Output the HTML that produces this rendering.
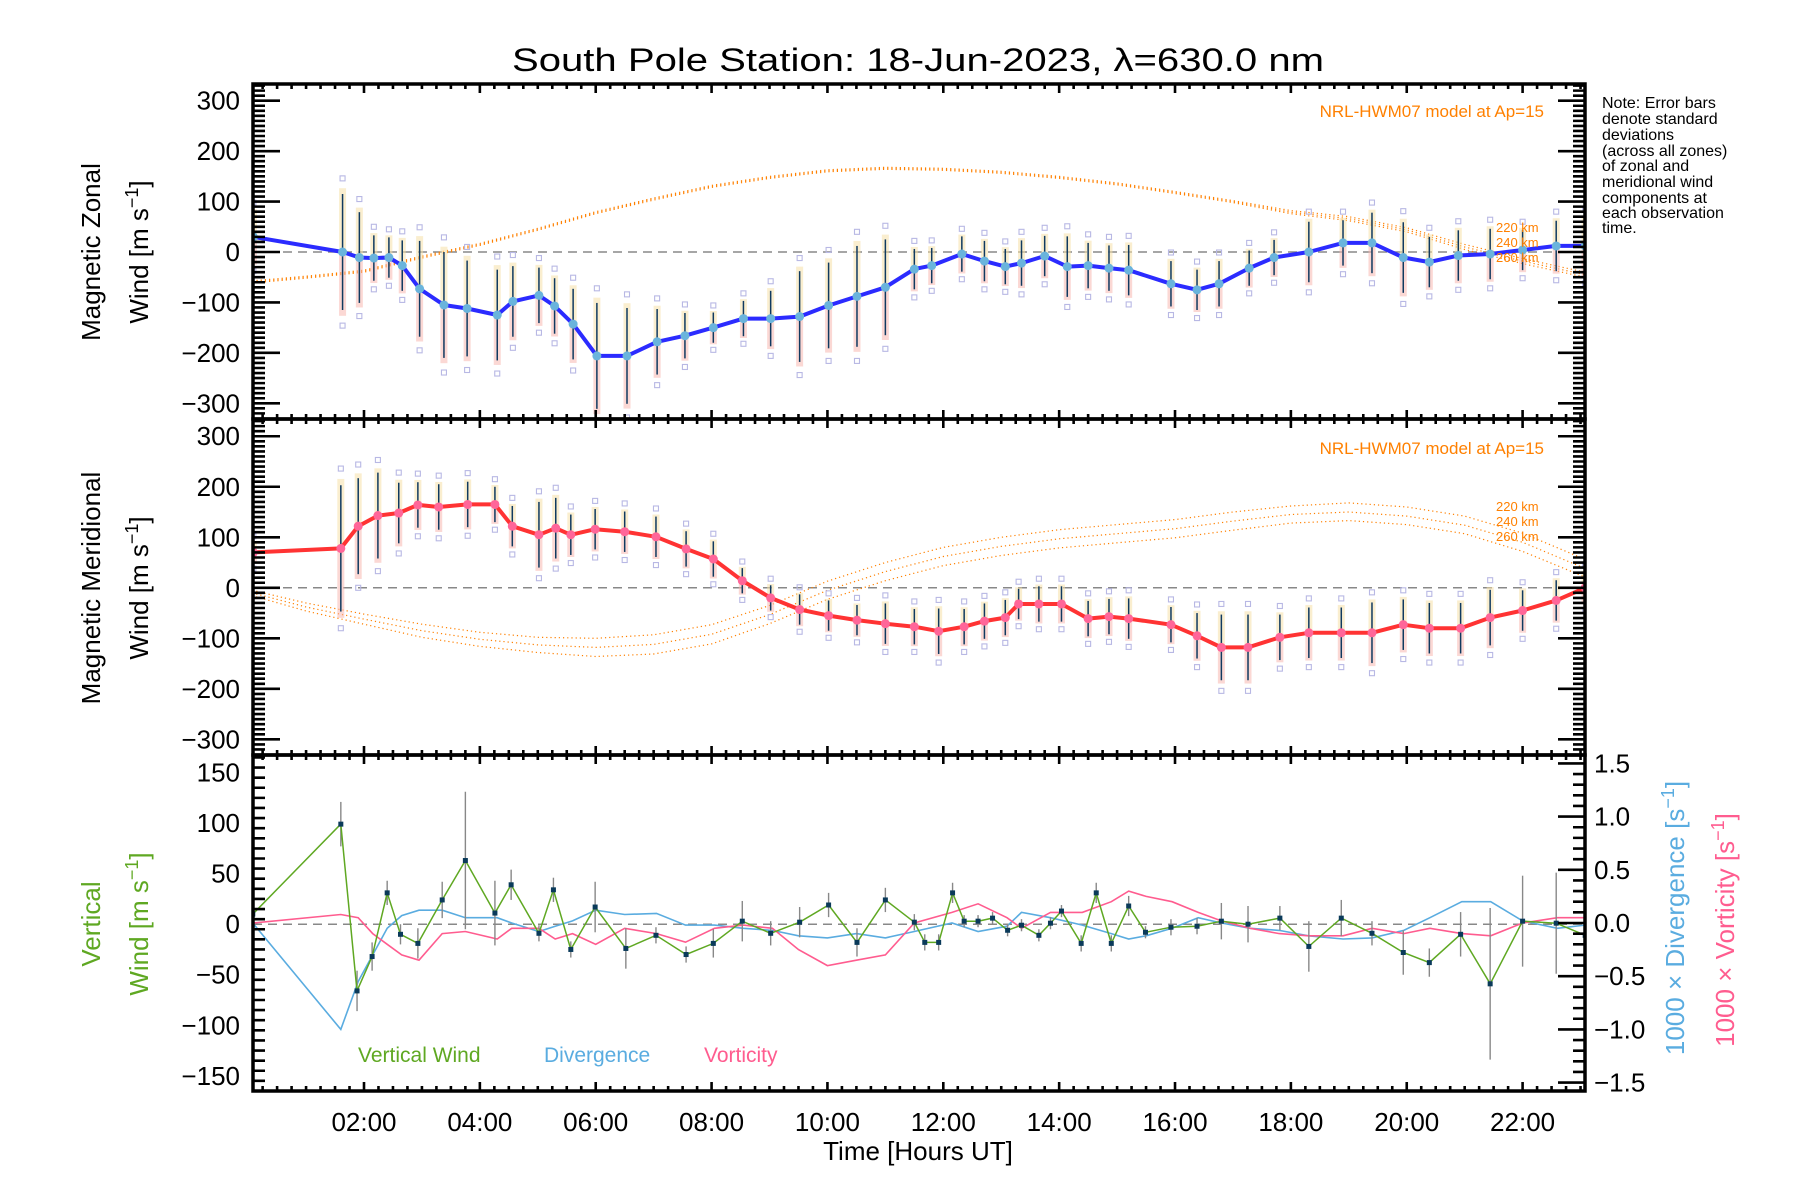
<!DOCTYPE html>
<html><head><meta charset="utf-8">
<style>
html,body{margin:0;padding:0;background:#fff;}
svg{display:block;font-family:"Liberation Sans",sans-serif;}
</style></head>
<body>
<svg id="chart" width="1800" height="1200" viewBox="0 0 1800 1200" xmlns="http://www.w3.org/2000/svg">
<defs>
<clipPath id="c1"><rect x="253" y="84" width="1332" height="335"/></clipPath>
<clipPath id="c2"><rect x="253" y="419" width="1332" height="336"/></clipPath>
<clipPath id="c3"><rect x="253" y="755" width="1332" height="336"/></clipPath>
</defs>
<text x="918" y="71" font-size="32" text-anchor="middle" textLength="812" lengthAdjust="spacingAndGlyphs">South Pole Station: 18-Jun-2023, λ=630.0 nm</text>
<g font-size="16" fill="#000">
<text x="1602" y="108">Note: Error bars</text>
<text x="1602" y="124">denote standard</text>
<text x="1602" y="140">deviations</text>
<text x="1602" y="156">(across all zones)</text>
<text x="1602" y="171">of zonal and</text>
<text x="1602" y="187">meridional wind</text>
<text x="1602" y="203">components at</text>
<text x="1602" y="218">each observation</text>
<text x="1602" y="233">time.</text>
</g>
<g id="layer"></g>
</svg>
<script>
// ---- data ----
const zonalTimes=[0.09,1.63,1.92,2.17,2.43,2.66,2.96,3.38,3.78,4.30,4.57,5.02,5.29,5.61,6.02,6.54,7.06,7.54,8.03,8.55,9.02,9.52,10.02,10.51,11.0,11.5,11.8,12.32,12.71,13.07,13.35,13.75,14.14,14.5,14.86,15.2,15.93,16.38,16.76,17.28,17.71,18.31,18.9,19.4,19.94,20.39,20.89,21.44,22.0,22.58,23.08];
const zonalWind=[30,0,-11,-12,-11,-27,-73,-105,-112,-125,-98,-86,-107,-143,-206,-206,-178,-166,-150,-132,-132,-128,-106,-88,-70,-34,-27,-4,-18,-29,-22,-8,-29,-27,-32,-36,-63,-75,-63,-32,-11,0,18,18,-11,-20,-7,-4,4,12,12];
const zonalErr=[50,115,90,45,40,50,95,105,95,90,70,55,55,70,105,95,65,45,30,35,55,90,85,100,95,40,35,35,40,35,45,40,60,45,45,50,45,40,45,35,35,60,45,60,70,50,50,50,40,50,55];
const meridTimes=[0.09,1.6,1.9,2.24,2.6,2.93,3.29,3.79,4.26,4.56,5.02,5.31,5.57,5.99,6.5,7.04,7.56,8.03,8.53,9.02,9.52,10.02,10.51,11.0,11.5,11.92,12.36,12.71,13.07,13.3,13.65,14.04,14.5,14.86,15.2,15.93,16.38,16.8,17.26,17.81,18.31,18.87,19.4,19.94,20.39,20.93,21.44,22.0,22.58,23.08];
const meridWind=[70,78,122,143,148,164,160,165,165,122,105,118,105,116,111,101,77,57,14,-20,-43,-55,-64,-71,-77,-86,-77,-66,-59,-32,-32,-32,-61,-57,-61,-73,-95,-118,-118,-98,-89,-89,-89,-73,-80,-80,-59,-45,-25,0];
const meridErr=[20,125,95,85,60,45,45,45,35,40,65,60,40,40,40,40,35,35,25,25,30,30,30,40,35,45,35,35,35,30,35,35,35,35,40,35,45,65,65,45,50,50,60,50,50,50,55,40,40,30];
const modelHours=[0,1,2,3,4,5,6,7,8,9,10,11,12,13,14,15,16,17,18,19,20,21,22,23,24];
const zonalModel220=[-58,-48,-36,-8,17,47,80,107,132,150,163,168,166,160,150,137,120,102,82,70,48,15,-13,-38,-60];
const zonalModel240=[-60,-50,-38,-10,15,45,78,105,130,148,161,166,164,158,148,135,118,100,79,66,44,10,-18,-43,-65];
const zonalModel260=[-62,-52,-40,-12,13,43,76,103,128,146,159,164,162,156,146,133,116,98,76,62,40,5,-23,-48,-70];
const meridModel220=[-3,-30,-52,-72,-88,-98,-100,-93,-73,-35,13,50,80,100,115,125,135,150,162,168,160,142,108,60,20];
const meridModel240=[-8,-38,-62,-85,-102,-113,-118,-112,-92,-53,-5,32,62,82,97,107,117,132,145,150,142,124,90,42,2];
const meridModel260=[-13,-46,-72,-98,-116,-128,-136,-131,-111,-71,-23,14,44,64,79,89,99,114,128,133,125,107,72,25,-15];
const vertTimes=[0.08,1.6,1.88,2.14,2.4,2.63,2.93,3.35,3.75,4.26,4.54,5.02,5.27,5.57,5.99,6.52,7.04,7.56,8.03,8.53,9.02,9.52,10.02,10.51,11.0,11.5,11.68,11.92,12.16,12.36,12.6,12.85,13.11,13.35,13.65,13.85,14.04,14.38,14.64,14.9,15.2,15.49,15.93,16.38,16.8,17.26,17.81,18.31,18.87,19.4,19.94,20.39,20.93,21.44,22.0,22.58,23.08];
const vertWind=[10,99,-66,-32,31,-10,-19,24,63,11,39,-9,34,-25,17,-24,-11,-30,-19,3,-9,2,19,-18,24,2,-18,-18,31,3,3,6,-6,-1,-11,1,13,-19,31,-19,18,-8,-3,-2,3,0,6,-22,6,-9,-28,-38,-10,-59,3,1,-11];
const vertErr=[0,22,20,14,12,10,15,18,68,32,15,8,12,8,25,20,8,8,14,20,12,15,12,14,12,8,8,8,10,6,6,6,6,6,6,6,6,8,10,8,10,6,8,8,18,18,12,25,18,12,22,14,22,75,45,50,12];
const dvTimes=[0.08,1.6,1.9,2.15,2.4,2.65,2.95,3.35,3.75,4.3,4.55,5.02,5.3,5.6,6.0,6.5,7.05,7.55,8.05,8.55,9.05,9.5,10.0,10.5,11.0,11.5,12.15,12.6,13.1,13.35,13.85,14.4,14.9,15.2,15.5,15.95,16.4,16.8,17.3,17.8,18.3,18.9,19.4,19.95,20.4,20.95,21.45,22.0,22.6,23.08];
const divergence=[0.0,-1.0,-0.55,-0.3,-0.05,0.07,0.12,0.12,0.05,0.05,0.0,-0.08,-0.03,0.02,0.12,0.08,0.09,-0.02,-0.02,-0.05,-0.07,-0.12,-0.14,-0.1,-0.14,-0.08,0.0,-0.08,-0.03,0.1,0.05,-0.02,-0.1,-0.15,-0.12,-0.05,0.05,0.0,-0.05,-0.07,-0.12,-0.15,-0.14,-0.07,0.05,0.2,0.2,0.02,-0.05,-0.02];
const vorticity=[0.0,0.08,0.05,-0.1,-0.2,-0.3,-0.35,-0.1,-0.08,-0.15,-0.05,-0.05,-0.15,-0.1,-0.2,-0.05,-0.1,-0.18,-0.05,-0.02,-0.05,-0.25,-0.4,-0.35,-0.3,0.0,0.1,0.18,0.05,-0.05,0.1,0.1,0.2,0.3,0.25,0.2,0.1,0.02,-0.05,-0.1,-0.12,-0.12,-0.05,-0.1,-0.05,-0.1,-0.12,0.0,0.05,0.05];
const xTickLabels=["02:00","04:00","06:00","08:00","10:00","12:00","14:00","16:00","18:00","20:00","22:00"];
const xTickHours=[2,4,6,8,10,12,14,16,18,20,22];
const windTicks=[300,200,100,0,-100,-200,-300];
const vertTicks=[150,100,50,0,-50,-100,-150];
const rightTicks=[1.5,1.0,0.5,0.0,-0.5,-1.0,-1.5];

// ---- axes ----
const L=253,R=1585;
const X=t=>364+(t-2)*57.93;
const Y1=v=>252-v*0.5043;
const Y2=v=>587.8-v*0.5052;
const Y3=v=>924.2-v*1.0107;
const Y3r=v=>923-v*106.4;
const NS='http://www.w3.org/2000/svg';
const layer=document.getElementById('layer');
function mk(tag,attrs,parent){const e=document.createElementNS(NS,tag);for(const k in attrs)e.setAttribute(k,attrs[k]);(parent||layer).appendChild(e);return e;}
function grp(name,clip){const g=mk('g',clip?{'clip-path':'url(#'+clip+')'}:{});


return g;}
function pathOf(ts,vs,xf,yf){return ts.map((t,i)=>(i?'L':'M')+xf(t).toFixed(1)+' '+yf(vs[i]).toFixed(1)).join(' ');}

const panels=[{top:84,bot:419,Y:Y1,clip:'c1',name:'zonal'},{top:419,bot:755,Y:Y2,clip:'c2',name:'meridional'},{top:755,bot:1091,Y:Y3,clip:'c3',name:'vertical'}];

panels.forEach(p=>{const l=mk('line',{x1:L,x2:R,y1:p.Y(0),y2:p.Y(0),stroke:'#888','stroke-width':1.5,'stroke-dasharray':'9 6'});

});

function models(g,arrs,Y,name){arrs.forEach((a,i)=>{const pth=mk('path',{d:pathOf(modelHours,a,X,Y),fill:'none',stroke:'#ff8000','stroke-width':1.2,'stroke-dasharray':'1.2 3'},g);

});}
models(grp('zonal-model','c1'),[zonalModel220,zonalModel240,zonalModel260],Y1,'zonal');
models(grp('meridional-model','c2'),[meridModel220,meridModel240,meridModel260],Y2,'meridional');

function errbars(g,ts,vs,es,Y,name){ts.forEach((t,i)=>{const x=X(t),v=vs[i],e=es[i];
const b1=mk('rect',{x:x-3.5,y:Y(v+e*1.1),width:7,height:Y(v)-Y(v+e*1.1),fill:'#f5e0a8',opacity:0.55},g);


const b2=mk('rect',{x:x-3.5,y:Y(v),width:7,height:Y(v-e*1.1)-Y(v),fill:'#f8b8b0',opacity:0.55},g);


[v+e*1.2+8,v-e*1.2-8].forEach(q=>{const s=mk('rect',{x:x-2.5,y:Y(q)-2.5,width:5,height:5,fill:'none',stroke:'#b8b8e4','stroke-width':1.1},g);

});
const l=mk('line',{x1:x,x2:x,y1:Y(v+e),y2:Y(v-e),stroke:'#103a60','stroke-width':1.5},g);

});}
errbars(grp('zonal-error-bars','c1'),zonalTimes,zonalWind,zonalErr,Y1,'zonal');
errbars(grp('meridional-error-bars','c2'),meridTimes,meridWind,meridErr,Y2,'meridional');

function mainLine(g,ts,vs,Y,col,dot,name){const p=mk('path',{d:pathOf(ts,vs,X,Y),fill:'none',stroke:col,'stroke-width':4,'stroke-linejoin':'round'},g);


ts.forEach((t,i)=>{const c=mk('circle',{cx:X(t),cy:Y(vs[i]),r:4.5,fill:dot},g);

});}
mainLine(grp('zonal-series','c1'),zonalTimes,zonalWind,Y1,'#2b2bff','#6ab4dc','zonal-wind');
mainLine(grp('meridional-series','c2'),meridTimes,meridWind,Y2,'#ff3333','#ff6699','meridional-wind');

const g3=grp('vertical-series','c3');
const dp=mk('path',{d:pathOf(dvTimes,divergence,X,Y3r),fill:'none',stroke:'#5aace0','stroke-width':1.6},g3);


const vp=mk('path',{d:pathOf(dvTimes,vorticity,X,Y3r),fill:'none',stroke:'#ff5c8f','stroke-width':1.6},g3);


vertTimes.forEach((t,i)=>{if(vertErr[i]>0){const l=mk('line',{x1:X(t),x2:X(t),y1:Y3(vertWind[i]+vertErr[i]),y2:Y3(vertWind[i]-vertErr[i]),stroke:'#888','stroke-width':1.4},g3);

}});
const wp=mk('path',{d:pathOf(vertTimes,vertWind,X,Y3),fill:'none',stroke:'#5fa822','stroke-width':1.5},g3);


vertTimes.forEach((t,i)=>{const s=mk('rect',{x:X(t)-2.5,y:Y3(vertWind[i])-2.5,width:5,height:5,fill:'#0a3a5a'},g3);

});

const ax=grp('axes',null);
panels.forEach((p,pi)=>{
 const f=mk('rect',{x:L,y:p.top,width:R-L,height:p.bot-p.top,fill:'none',stroke:'#000','stroke-width':3.5},ax);
 
 
 let d='';
 for(let m=0;m<=96;m++){const t=m/4;const x=X(t);if(x<L||x>R)continue;const len=(m%8===0)?9:5;d+=`M${x} ${p.top}v${len}M${x} ${p.bot}v${-len}`;}
 const range=pi<2?[-330,330]:[-165,165];const step=10;const major=pi<2?100:50;
 for(let v=range[0];v<=range[1];v+=step){const y=p.Y(v);if(y<p.top+1||y>p.bot-1)continue;const len=(v%major===0)?27:12;d+=`M${L} ${y}h${len}`;if(pi<2)d+=`M${R} ${y}h${-len}`;}
 if(pi===2){for(let k=-16;k<=16;k++){const y=Y3r(k/10);if(y<p.top+1||y>p.bot-1)continue;const len=(k%5===0)?27:12;d+=`M${R} ${y}h${-len}`;}}
 const tk=mk('path',{d:d,stroke:'#000','stroke-width':2.6,fill:'none'},ax);
 
 
});
const labs=grp('tick-labels',null);
function txt(s,x,y,attrs,name){const e=mk('text',Object.assign({x:x,y:y,'font-size':26},attrs||{}),labs);e.textContent=s;

return e;}
windTicks.forEach(v=>{txt(String(v).replace('-','\u2212'),240,Y1(v)+9,{'text-anchor':'end'},'zonal-y-tick-label');txt(String(v).replace('-','\u2212'),240,Y2(v)+9,{'text-anchor':'end'},'meridional-y-tick-label');});
vertTicks.forEach(v=>txt(String(v).replace('-','\u2212'),240,Y3(v)+9,{'text-anchor':'end'},'vertical-y-tick-label'));
rightTicks.forEach(v=>txt((v<0?'\u2212':'')+Math.abs(v).toFixed(1),1594,Y3r(v)+9,{},'right-y-tick-label'));
xTickHours.forEach((h,i)=>txt(xTickLabels[i],X(h),1131,{'text-anchor':'middle'},'x-tick-label'));
txt('Time [Hours UT]',918,1160,{'text-anchor':'middle'},'x-axis-title');
function vt(s,x,y,col,name){const e=txt('',x,y,{'text-anchor':'middle',transform:`rotate(-90 ${x} ${y})`,fill:col},name);e.innerHTML=s;return e;}
vt('Magnetic Zonal',100,252,'#000','zonal-y-title');
vt('Wind [m s<tspan dy="-10" font-size="18">−1</tspan><tspan dy="10">]</tspan>',148,252,'#000','zonal-y-units');
vt('Magnetic Meridional',100,588,'#000','meridional-y-title');
vt('Wind [m s<tspan dy="-10" font-size="18">−1</tspan><tspan dy="10">]</tspan>',148,588,'#000','meridional-y-units');
vt('Vertical',100,924,'#5fa822','vertical-y-title');
vt('Wind [m s<tspan dy="-10" font-size="18">−1</tspan><tspan dy="10">]</tspan>',148,924,'#5fa822','vertical-y-units');
vt('1000 × Divergence [s<tspan dy="-10" font-size="18">−1</tspan><tspan dy="10">]</tspan>',1684,918,'#5aace0','divergence-y-title');
vt('1000 × Vorticity [s<tspan dy="-10" font-size="18">−1</tspan><tspan dy="10">]</tspan>',1734,930,'#ff5c8f','vorticity-y-title');
txt('NRL-HWM07 model at Ap=15',1544,117,{'font-size':17,fill:'#ff8000','text-anchor':'end'},'zonal-model-label');
txt('NRL-HWM07 model at Ap=15',1544,454,{'font-size':17,fill:'#ff8000','text-anchor':'end'},'meridional-model-label');
['220 km','240 km','260 km'].forEach((s,i)=>{txt(s,1496,232+i*15,{'font-size':13,fill:'#ff8000'},'zonal-model-altitude-label');txt(s,1496,511+i*15,{'font-size':13,fill:'#ff8000'},'meridional-model-altitude-label');});
txt('Vertical Wind',358,1062,{'font-size':21,fill:'#5fa822'},'legend-vertical-wind');
txt('Divergence',544,1062,{'font-size':21,fill:'#5aace0'},'legend-divergence');
txt('Vorticity',704,1062,{'font-size':21,fill:'#ff5c8f'},'legend-vorticity');
</script>
</body></html>
